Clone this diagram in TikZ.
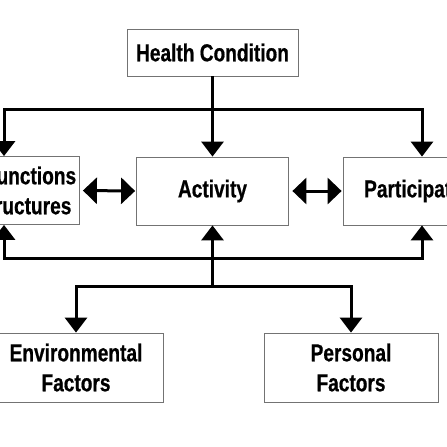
\documentclass[tikz,border=0pt]{standalone}
\usepackage{fontspec}
\setmainfont{Liberation Sans}[FakeStretch=0.78,BoldFeatures={FakeBold=0.6}]
\usetikzlibrary{arrows.meta}
\begin{document}
\begin{tikzpicture}[x=1pt,y=-1pt,
  box/.style={draw=black!55,line width=0.8pt,inner sep=0pt,align=center,
    font=\fontsize{24.5}{30}\selectfont\bfseries},
  conn/.style={line width=3pt,-{Triangle[width=22pt,length=15pt,fill=black]}},
  dconn/.style={line width=3pt,{Triangle[width=26pt,length=14pt,fill=black]}-{Triangle[width=26pt,length=14pt,fill=black]},shorten <=3.5pt,shorten >=1pt}]
\useasboundingbox (0,0) rectangle (447,447);
\node[box,minimum width=171pt,minimum height=47pt] (hc) at (212.5,52.5) {Health Condition};
\node[box,minimum width=150pt,minimum height=68pt] (body) at (4,190.5) {Body Functions\\and Structures};
\node[box,minimum width=152pt,minimum height=68pt] (act) at (212.5,191) {Activity};
\node[box,minimum width=158pt,minimum height=68pt] (part) at (422,191) {Participation};
\node[box,minimum width=174pt,minimum height=69pt] (env) at (76,367.5) {Environmental\\Factors};
\node[box,minimum width=174pt,minimum height=69pt] (pers) at (351,367.5) {Personal\\Factors};
\coordinate (top) at (212.5,109);
\coordinate (b1) at (212.5,258);
\coordinate (b2) at (212.5,286);
\draw[line width=3pt] (hc.south) -- (top);
\draw[conn] (top) -- (act.north);
\draw[conn] (top) -| (body.north);
\draw[conn] (top) -| (part.north);
\draw[conn] (b2) -- (act.south);
\draw[conn] (b1) -| (body.south);
\draw[conn] (b1) -| (part.south);
\draw[conn] (b2) -| (env.north);
\draw[conn] (b2) -| (pers.north);
\draw[dconn] (body.east) -- (act.west);
\draw[dconn] (act.east) -- (part.west);
\end{tikzpicture}
\end{document}
